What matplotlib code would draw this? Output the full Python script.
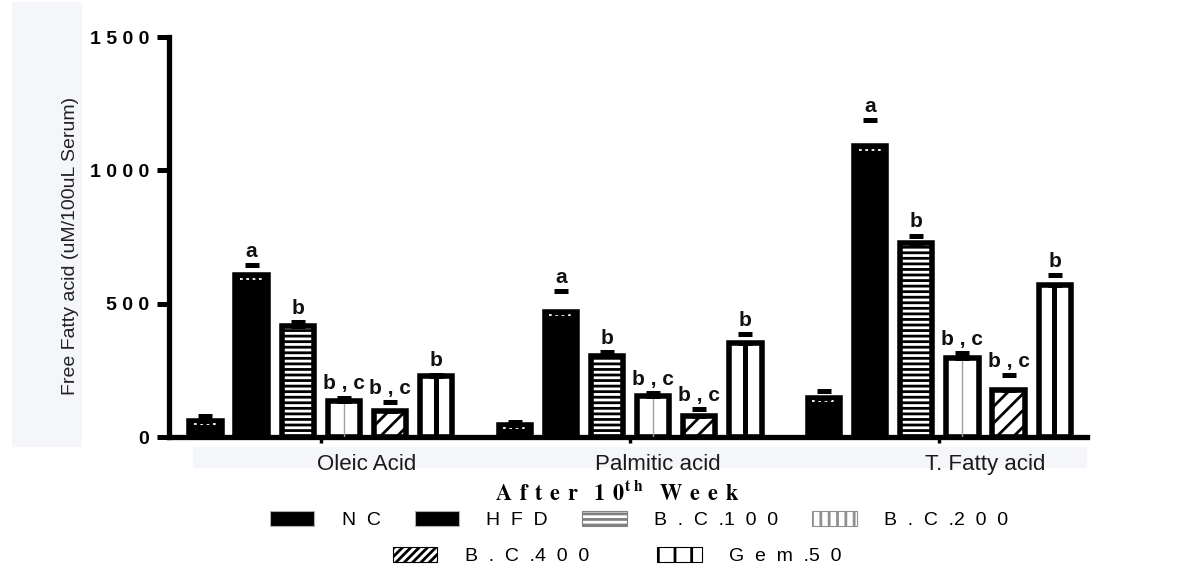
import numpy as np
import matplotlib
matplotlib.use("Agg")
import matplotlib.pyplot as plt
import matplotlib.patches as mpatches

plt.rcParams['font.family'] = ['Liberation Sans', 'DejaVu Sans']
plt.rcParams['mathtext.fontset'] = 'stix'
plt.rcParams['hatch.linewidth'] = 2.0

# Datos
groups = ['Oleic Acid', 'Palmitic acid', 'T. Fatty acid']
treatments = ['N  C', 'H  F  D', 'B  .  C  .1  0  0', 'B  .  C  .2  0  0',
              'B  .  C  .4  0  0', 'G  e  m  .5  0']
oleic = [61, 607, 417, 136, 96, 227]
palmitic = [45, 470, 305, 155, 80, 351]
t_fatty = [148, 1090, 726, 296, 177, 571]
oleic_err = [19, 38, 13, 12, 36, 7]
palmitic_err = [12, 76, 15, 10, 25, 35]
t_fatty_err = [23, 100, 29, 19, 55, 36]
letters = ['', 'a', 'b', 'b , c', 'b , c', 'b']
yticks = [0, 500, 1000, 1500]
ytick_labels = ['0', '5 0 0', '1 0 0 0', '1 5 0 0']

means = np.array([oleic, palmitic, t_fatty])
errs = np.array([oleic_err, palmitic_err, t_fatty_err])

n_tr = len(treatments)
group_step = 6.7
width = 0.7
label_shift = [1.0, 0.6, 1.0]

fig = plt.figure(figsize=(12, 5.88), dpi=100)
ax = fig.add_axes([168.5/1200, 1 - 437/588, (1087 - 168.5)/1200, 400/588])

# banda gris detras del titulo del eje y
fig.add_artist(mpatches.Rectangle((12/1200, 1 - 447/588), 70/1200, 445/588,
                                  transform=fig.transFigure, facecolor='#f4f6f9',
                                  edgecolor='none', zorder=0))

styles = [
    dict(facecolor='black', hatch=None),
    dict(facecolor='black', hatch=None),
    dict(facecolor='white', hatch='---'),
    dict(facecolor='white', hatch=None),
    dict(facecolor='white', hatch='//'),
    dict(facecolor='white', hatch=None),
]

for g in range(len(groups)):
    x = g*group_step + np.arange(n_tr)
    for i in range(n_tr):
        ax.bar(x[i], means[g, i], width=width, color=styles[i]['facecolor'],
               edgecolor='black', linewidth=4, hatch=styles[i]['hatch'], zorder=2)
        if i < 2:
            ax.hlines(means[g, i] - 13, x[i] - 0.25, x[i] + 0.25, colors='white',
                      linestyles=(0, (1.5, 2.0)), lw=1.3, zorder=3)
        if i == 3:
            ax.vlines(x[i], 0, means[g, i] - 9, colors='#a0a0a0', lw=1, zorder=3)
        if i == 5:
            ax.bar(x[i], means[g, i], width=0.1, color='black', linewidth=0, zorder=3)
    ax.errorbar(x, means[g], yerr=[np.zeros(n_tr), errs[g]], fmt='none', ecolor='black',
                elinewidth=0, capsize=4.8, capthick=3.6, zorder=4)
    for i in range(n_tr):
        if letters[i]:
            ax.annotate(letters[i], (x[i], means[g, i] + errs[g, i]), xytext=(0, 3),
                        textcoords='offset points', ha='center', va='bottom',
                        fontsize=15, fontweight='bold', color='#111')

centers = np.arange(len(groups))*group_step + (n_tr - 1)/2
ax.set_xticks(centers)
ax.set_xticklabels([])
ax.tick_params(axis='x', length=4, width=2.5, direction='out')
for g, name in enumerate(groups):
    ax.text(centers[g] + label_shift[g], -0.0825, name, transform=ax.get_xaxis_transform(),
            ha='center', va='baseline', fontsize=16, color='#1a1a1a')
ax.add_patch(mpatches.Rectangle((0.027, -0.0775), 0.973, 0.0525, transform=ax.transAxes,
                                facecolor='#f4f6f9', edgecolor='none', clip_on=False, zorder=0))

ax.set_xlim(-0.8, 19.1)
ax.set_ylim(0, 1500)
ax.set_yticks(yticks)
ax.set_yticklabels(ytick_labels, fontsize=14, fontweight='bold')
ax.tick_params(axis='y', length=9, width=3.6, pad=5)
for s in ['top', 'right']:
    ax.spines[s].set_visible(False)
for s in ['left', 'bottom']:
    ax.spines[s].set_linewidth(3.8)

fig.text(0.059, 1 - 245.5/588, 'Free Fatty acid (uM/100uL Serum)', rotation=90,
         ha='center', va='center', fontsize=14, color='#222')

fig.text(617/1200, 1 - 500/588,
         r'$\mathbf{A\ \,f\ \,t\ \,e\ \,r\quad 1\ \,0^{t\ h}\quad W\ \,e\ \,e\ \,k}$',
         ha='center', va='baseline', fontsize=16)

leg_styles = [
    dict(facecolor='black', edgecolor='#b0b0b0'),
    dict(facecolor='black', edgecolor='#b0b0b0'),
    dict(facecolor='white', edgecolor='#808080', hatch='---'),
    dict(facecolor='white', edgecolor='#909090', hatch='||'),
    dict(facecolor='white', edgecolor='black', hatch='////'),
    dict(facecolor='white', edgecolor='black', hatch='|'),
]
handles = [mpatches.Patch(linewidth=0.8, **st) for st in leg_styles]

fig.legend(handles[:4], treatments[:4], loc='center', bbox_to_anchor=(639/1200, 1 - 520/588),
           ncol=4, frameon=False, fontsize=14, handlelength=2.3, handleheight=0.8,
           handletextpad=1.4, columnspacing=1.75, borderpad=0, borderaxespad=0)
fig.legend(handles[4:], treatments[4:], loc='center', bbox_to_anchor=(617/1200, 1 - 556/588),
           ncol=2, frameon=False, fontsize=14, handlelength=2.3, handleheight=0.8,
           handletextpad=1.4, columnspacing=3.5, borderpad=0, borderaxespad=0)

fig.savefig('out.png', dpi=100)
